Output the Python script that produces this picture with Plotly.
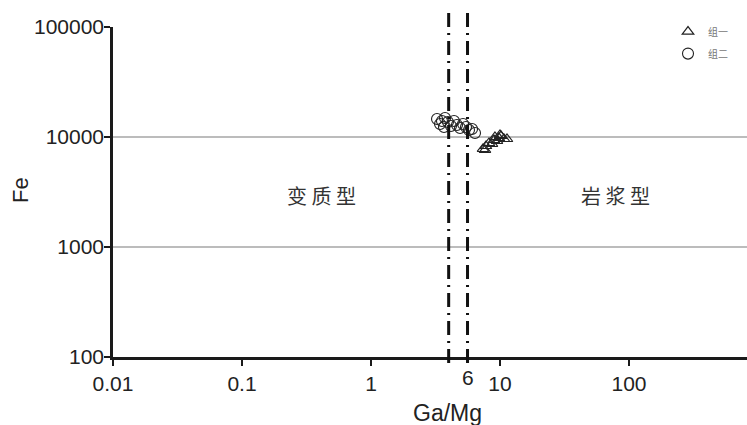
import math
import plotly.graph_objects as go

# ---- data ----
g1_x = [7.38, 7.79, 8.22, 8.67, 8.98, 9.48, 9.82, 10.18, 10.74, 11.33, 7.65, 9.14, 10.0]
g1_y = [7780, 8280, 8820, 8640, 9390, 9200, 9790, 10210, 9590, 9590, 7620, 10000, 10430]
g2_x = [3.25, 3.55, 3.43, 3.75, 3.95, 4.17, 4.40, 4.64, 4.90, 5.17, 5.45, 5.75, 6.07, 6.40, 3.68]
g2_y = [14580, 13980, 13130, 14880, 13680, 12590, 13980, 12860, 12070, 13130, 12330, 11580, 11820, 10870, 12330]
boundary_x = [4.0, 5.6]
boundary_label = "6"
x_ticks = [0.01, 0.1, 1, 10, 100]
x_ticktext = ["0.01", "0.1", "1", "10", "100"]
y_ticks = [100, 1000, 10000, 100000]
y_ticktext = ["100", "1000", "10000", "100000"]
grid_y = [1000, 10000]
series_names = ["组一", "组二"]
region_labels = ["变 质 型", "岩 浆 型"]
region_x = [0.41, 78.0]
region_y = [2970, 2970]

W, H = 747, 425
L, R, T, B = 113, 0, 27, 68
pw = W - L - R
ph = H - T - B

fig = go.Figure()
fig.add_trace(go.Scatter(
    x=g1_x, y=g1_y, mode="markers", name=series_names[0], legendgroup="g1",
    marker=dict(symbol="triangle-up-open", size=10, color="#222",
                line=dict(width=1.2, color="#222"))))
fig.add_trace(go.Scatter(
    x=g2_x, y=g2_y, mode="markers", name=series_names[1], legendgroup="g2",
    marker=dict(symbol="circle-open", size=11, color="#222",
                line=dict(width=1.1, color="#222"))))

shapes = []
for gy in grid_y:
    shapes.append(dict(type="line", xref="paper", yref="y", x0=0, x1=1,
                       y0=gy, y1=gy, line=dict(color="#a6a6a6", width=1.3),
                       layer="below"))
for bx in boundary_x:
    shapes.append(dict(type="line", xref="x", yref="paper", x0=bx, x1=bx,
                       y0=1 + 14 / ph, y1=-11 / ph,
                       line=dict(color="#111", width=3, dash="14px,6px,2px,6px")))

annotations = []
for txt, rx, ry in zip(region_labels, region_x, region_y):
    annotations.append(dict(x=math.log10(rx), y=math.log10(ry), xref="x", yref="y", text=txt,
                            showarrow=False,
                            font=dict(family="Noto Sans CJK SC", size=20, color="#333")))
annotations.append(dict(x=math.log10(boundary_x[1]), y=-(377.5 - (T + ph)) / ph, xref="x", yref="paper",
                        text=boundary_label, showarrow=False, yanchor="middle",
                        font=dict(family="Liberation Sans", size=21, color="#222")))
annotations.append(dict(x=(447 - L) / pw, y=-(412.5 - (T + ph)) / ph, xref="paper", yref="paper",
                        text="Ga/Mg", showarrow=False, yanchor="middle",
                        font=dict(family="Liberation Sans", size=23, color="#222")))
annotations.append(dict(x=-(L - 20) / pw, y=1 - (190 - T) / ph, xref="paper", yref="paper",
                        text="Fe", showarrow=False, textangle=-90, xanchor="center",
                        yanchor="middle",
                        font=dict(family="Liberation Sans", size=22, color="#222")))

fig.update_layout(
    width=W, height=H,
    margin=dict(l=L, r=R, t=T, b=B, pad=0),
    paper_bgcolor="white", plot_bgcolor="white",
    showlegend=True,
    legend=dict(x=(668 - L) / pw, y=1.03, xanchor="left", yanchor="top",
                bgcolor="rgba(0,0,0,0)",
                font=dict(family="Noto Sans CJK SC", size=10, color="#777"),
                itemwidth=30, tracegroupgap=3),
    shapes=shapes, annotations=annotations,
    xaxis=dict(type="log", range=[-2, (W - L) / 129 - 2],
               tickvals=x_ticks, ticktext=x_ticktext,
               showgrid=False, zeroline=False,
               showline=True, linecolor="#1a1a1a", linewidth=2.5,
               ticks="outside", ticklen=6, tickwidth=2, tickcolor="#1a1a1a",
               ticklabelstandoff=0,
               tickfont=dict(family="Liberation Sans", size=21, color="#222")),
    yaxis=dict(type="log", range=[2, 5],
               tickvals=y_ticks, ticktext=y_ticktext,
               showgrid=False, zeroline=False,
               showline=True, linecolor="#1a1a1a", linewidth=2.5,
               ticks="outside", ticklen=6, tickwidth=2, tickcolor="#1a1a1a",
               ticklabelstandoff=-4,
               tickfont=dict(family="Liberation Sans", size=21, color="#222")),
)

fig.write_html("out.html")
